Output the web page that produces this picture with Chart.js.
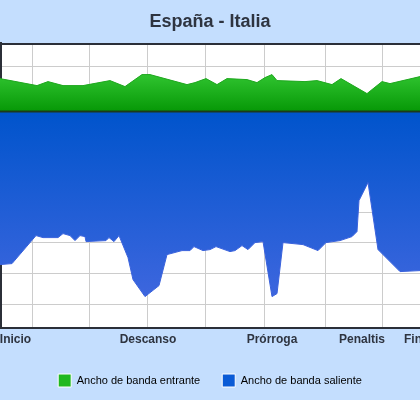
<!DOCTYPE html>
<html lang="es">
<head>
    <meta charset="UTF-8">
    <title>España - Italia</title>
    <script src="https://cdn.jsdelivr.net/npm/chart.js"></script>
    <style>
        body { margin: 0; background: #c4defe; }
        canvas { display: block; }
    </style>
</head>
<body>
<canvas id="bandChart" width="420" height="400"></canvas>

<script>
    // Ancho de banda entrante (positivo) y saliente (negativo)
    const entranteX = [0, 37, 48, 63, 83, 110, 125, 142, 150, 187, 195, 206, 217, 227, 247, 257, 265, 272, 277, 305, 317, 332, 341, 367, 382, 390, 420];
    const entrante = [33, 26, 30, 26, 26, 31, 25, 37, 37, 27, 29, 33, 27, 33, 32, 29, 34, 37, 31, 30, 31, 27, 33, 18, 30, 28, 35];

    const salienteX = [0, 12, 36, 43, 58, 63, 70, 75, 80, 85, 86, 106, 109, 114, 119, 128, 133, 145, 159, 167, 182, 190, 194, 203, 210, 216, 230, 235, 242, 248, 255, 263, 272, 277, 283, 303, 318, 326, 340, 352, 357, 359, 368, 378, 400, 420];
    const saliente = [-153, -152, -124, -126, -126, -122, -124, -129, -124, -125, -130, -129, -126, -130, -124, -146, -168, -185, -174, -143, -139, -139, -135, -139, -138, -135, -140, -139, -134, -138, -131, -130, -185, -182, -131, -133, -139, -131, -129, -125, -120, -89, -71, -138, -160, -159];

    const momentos = ['Inicio', 'Descanso', 'Prórroga', 'Penaltis', 'Fin'];
    const momentosX = [15.5, 148, 272, 362, 413];

    const gridX = [32, 89, 147, 205, 264, 325, 382];
    const gridY = [45, -101, -131, -162, -193];

    const seriesNames = ['Ancho de banda entrante', 'Ancho de banda saliente'];
    const seriesColors = ['#1fb81f', '#0a5bd6'];

    function toPoints(xs, ys) {
        return xs.map((x, i) => ({ x: x, y: ys[i] }));
    }

    function verticalGradient(c, fromValue, toValue, c1, c2) {
        const chart = c.chart;
        if (!chart.chartArea) return c1;
        const y = chart.scales.y;
        const g = chart.ctx.createLinearGradient(0, y.getPixelForValue(fromValue), 0, y.getPixelForValue(toValue));
        g.addColorStop(0, c1);
        g.addColorStop(1, c2);
        return g;
    }

    const plotBackground = {
        id: 'plotBackground',
        beforeDraw(chart) {
            const a = chart.chartArea;
            chart.ctx.save();
            chart.ctx.fillStyle = '#ffffff';
            chart.ctx.fillRect(a.left, a.top, a.right - a.left, a.bottom - a.top);
            chart.ctx.restore();
        }
    };

    const font = 'Liberation Sans, Arial, sans-serif';

    new Chart(document.getElementById('bandChart'), {
        type: 'line',
        data: {
            datasets: [{
                label: 'base',
                data: [{ x: 0, y: 0 }, { x: 420, y: 0 }],
                borderColor: '#1c3a1c',
                borderWidth: 2,
                pointRadius: 0,
                fill: false,
                order: -1
            }, {
                label: seriesNames[0],
                data: toPoints(entranteX, entrante),
                borderColor: '#1fa81f',
                borderWidth: 1,
                backgroundColor: c => verticalGradient(c, 38, 0, '#31c531', '#069806'),
                fill: 'origin',
                pointRadius: 0,
                tension: 0
            }, {
                label: seriesNames[1],
                data: toPoints(salienteX, saliente),
                borderColor: '#3a62dc',
                borderWidth: 1,
                backgroundColor: c => verticalGradient(c, 0, -185, '#0054cc', '#3d66de'),
                fill: 'origin',
                pointRadius: 0,
                tension: 0
            }]
        },
        options: {
            responsive: false,
            animation: false,
            layout: { padding: { bottom: 3 } },
            plugins: {
                title: {
                    display: true,
                    text: 'España - Italia',
                    color: '#2e3440',
                    font: { family: font, size: 18, weight: 'bold' },
                    padding: { top: 11, bottom: 11 }
                },
                legend: {
                    position: 'bottom',
                    labels: {
                        boxWidth: 13,
                        boxHeight: 13,
                        padding: 22,
                        color: '#333',
                        font: { family: font, size: 11 },
                        generateLabels: () => seriesNames.map((name, i) => ({
                            text: name,
                            fillStyle: seriesColors[i],
                            strokeStyle: '#ffffff',
                            lineWidth: 1,
                            datasetIndex: i + 1
                        }))
                    }
                },
                tooltip: { enabled: false }
            },
            scales: {
                x: {
                    type: 'linear',
                    min: 0,
                    max: 420,
                    afterBuildTicks: s => {
                        s.ticks = gridX.concat(momentosX).sort((a, b) => a - b).map(v => ({ value: v }));
                    },
                    afterFit: s => { s.paddingLeft = 0; s.paddingRight = 0; },
                    grid: {
                        color: c => gridX.includes(c.tick.value) ? '#cccccc' : 'transparent',
                        drawTicks: false
                    },
                    border: { color: '#2b2f38', width: 2 },
                    ticks: {
                        autoSkip: false,
                        maxRotation: 0,
                        padding: 5,
                        color: '#2e3440',
                        font: { family: font, size: 12, weight: 'bold' },
                        callback: v => {
                            const i = momentosX.indexOf(v);
                            return i >= 0 ? momentos[i] : '';
                        }
                    }
                },
                xTop: {
                    type: 'linear',
                    position: 'top',
                    min: 0,
                    max: 420,
                    grid: { drawOnChartArea: false, drawTicks: false },
                    border: { color: '#2b2f38', width: 2 },
                    ticks: { display: false }
                },
                y: {
                    min: -216,
                    max: 68,
                    afterBuildTicks: s => {
                        s.ticks = gridY.map(v => ({ value: v }));
                    },
                    grid: { color: '#cccccc', drawTicks: false },
                    border: { color: '#2b2f38', width: 3 },
                    ticks: { display: false }
                }
            }
        },
        plugins: [plotBackground]
    });
</script>
</body>
</html>
